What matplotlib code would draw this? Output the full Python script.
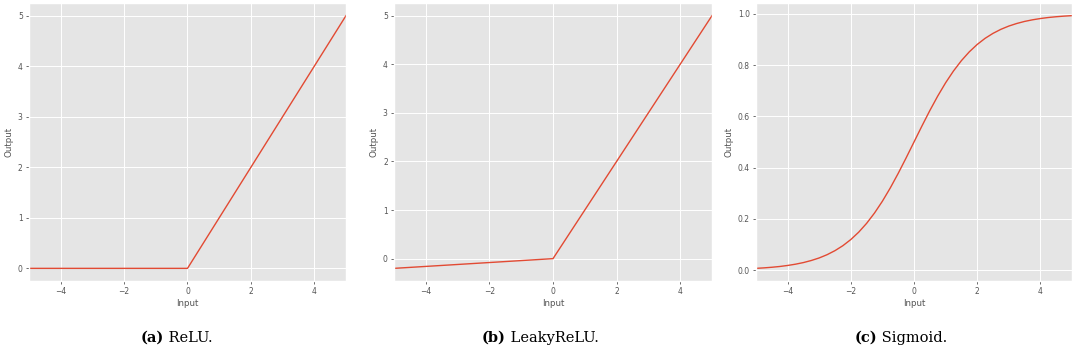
import matplotlib
matplotlib.use("Agg")
import matplotlib.pyplot as plt

plt.style.use("ggplot")

# ---- data ----
relu_x = [-5.0, 0.0, 5.0]
relu_y = [0.0, 0.0, 5.0]

leaky_x = [-5.0, 0.0, 5.0]
leaky_y = [-0.2, 0.0, 5.0]

sig_x = [-5.0, -4.75, -4.5, -4.25, -4.0, -3.75, -3.5, -3.25, -3.0, -2.75,
         -2.5, -2.25, -2.0, -1.75, -1.5, -1.25, -1.0, -0.75, -0.5, -0.25,
         0.0, 0.25, 0.5, 0.75, 1.0, 1.25, 1.5, 1.75, 2.0, 2.25,
         2.5, 2.75, 3.0, 3.25, 3.5, 3.75, 4.0, 4.25, 4.5, 4.75, 5.0]
sig_y = [0.0067, 0.0086, 0.0110, 0.0140, 0.0180, 0.0230, 0.0293, 0.0374, 0.0474, 0.0601,
         0.0759, 0.0953, 0.1192, 0.1480, 0.1824, 0.2227, 0.2689, 0.3208, 0.3775, 0.4378,
         0.5000, 0.5622, 0.6225, 0.6792, 0.7311, 0.7773, 0.8176, 0.8520, 0.8808, 0.9047,
         0.9241, 0.9399, 0.9526, 0.9626, 0.9707, 0.9770, 0.9820, 0.9860, 0.9890, 0.9914, 0.9933]

captions_bold = ["(a)", "(b)", "(c)"]
captions_text = ["ReLU.", "LeakyReLU.", "Sigmoid."]
x_label = "Input"
y_label = "Output"
xticks = [-4, -2, 0, 2, 4]

W, H = 1072, 358
fig = plt.figure(figsize=(W / 100, H / 100), dpi=100)

axes_px = [(29, 346), (394, 712), (756, 1072)]
top_px, bot_px = 3, 281
caption_cx = [177, 540, 901]
caption_y = 338

series = [(relu_x, relu_y), (leaky_x, leaky_y), (sig_x, sig_y)]

for (l, r), (xs, ys) in zip(axes_px, series):
    ax = fig.add_axes([l / W, 1 - bot_px / H, (r - l) / W, (bot_px - top_px) / H])
    ax.plot(xs, ys, color="#E24A33", lw=1.0)
    ax.set_xlim(-5, 5)
    ax.set_xticks(xticks)
    ax.tick_params(labelsize=5.5, length=2.5, width=0.6, pad=2, colors="#555555")
    ax.set_xlabel(x_label, fontsize=6.3, color="#555555", labelpad=2)
    ax.set_ylabel(y_label, fontsize=6.3, color="#555555", labelpad=3)
    ax.grid(True, color="white", lw=0.7)

fig.canvas.draw()
renderer = fig.canvas.get_renderer()
fs = 10.5
for cx, b, t in zip(caption_cx, captions_bold, captions_text):
    tb = fig.text(0, 0, b, fontsize=fs, fontweight="bold", family="DejaVu Serif")
    tt = fig.text(0, 0, " " + t, fontsize=fs, family="DejaVu Serif")
    wb = tb.get_window_extent(renderer).width
    wt = tt.get_window_extent(renderer).width
    x0 = cx - (wb + wt) / 2
    yy = 1 - caption_y / H
    tb.set_position((x0 / W, yy))
    tb.set_va("center")
    tt.set_position(((x0 + wb) / W, yy))
    tt.set_va("center")

fig.savefig("out.png", dpi=100, facecolor="white")
